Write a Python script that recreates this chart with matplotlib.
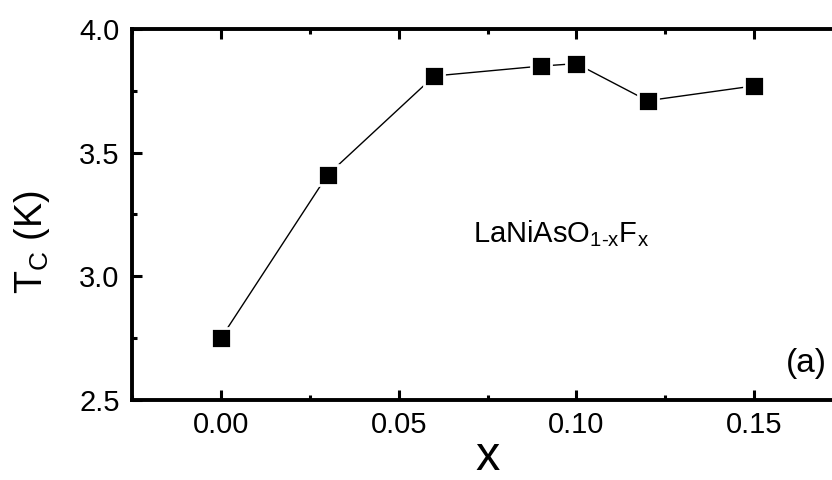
import matplotlib
matplotlib.use('Agg')
import matplotlib.pyplot as plt
from matplotlib.ticker import MultipleLocator

plt.rcParams['font.family'] = ['Liberation Sans', 'DejaVu Sans']
plt.rcParams['mathtext.fontset'] = 'custom'
plt.rcParams['mathtext.rm'] = 'Liberation Sans'

# F doping level and superconducting transition temperature
x_doping = [0.00, 0.03, 0.06, 0.09, 0.10, 0.12, 0.15]
tc_kelvin = [2.75, 3.41, 3.81, 3.85, 3.86, 3.71, 3.77]

fig = plt.figure(figsize=(8.32, 4.80), dpi=100)
# right spine sits just past the figure edge
ax = fig.add_axes([0.1587, 0.1667, 0.8546, 0.7729])

ax.plot(x_doping, tc_kelvin, color='black', lw=1.0,
        marker='s', ms=14.2, mfc='black', mec='white', mew=2.0)

ax.set_xlim(-0.025, 0.175)
ax.set_ylim(2.5, 4.0)
ax.xaxis.set_major_locator(MultipleLocator(0.05))
ax.xaxis.set_minor_locator(MultipleLocator(0.025))
ax.yaxis.set_major_locator(MultipleLocator(0.5))
ax.yaxis.set_minor_locator(MultipleLocator(0.25))
ax.xaxis.set_major_formatter(plt.FormatStrFormatter('%.2f'))
ax.yaxis.set_major_formatter(plt.FormatStrFormatter('%.1f'))

for s in ax.spines.values():
    s.set_linewidth(2.8)
ax.tick_params(which='both', direction='in', top=True, right=True,
               width=2.2, labelsize=21)
ax.tick_params(which='major', length=7.5)
ax.tick_params(which='minor', length=3.5)
ax.tick_params(axis='x', which='major', pad=8)
ax.tick_params(axis='y', which='major', pad=9)

fig.text(0.5865, 0.0, 'x', fontsize=35, ha='center', va='bottom')
fig.text(0.0385, 0.496, r'T$_\mathregular{C}$ (K)', fontsize=27,
         rotation=90, ha='center', va='center')

ax.text(0.0708, 3.139,
        r'LaNiAsO$_{\mathregular{1\text{-}x}}$F$_{\mathregular{x}}$',
        fontsize=21, ha='left', va='baseline')
ax.text(0.9775, 0.0755, '(a)', fontsize=24, ha='right', va='baseline',
        transform=ax.transAxes)

fig.savefig('out.png', dpi=100)
